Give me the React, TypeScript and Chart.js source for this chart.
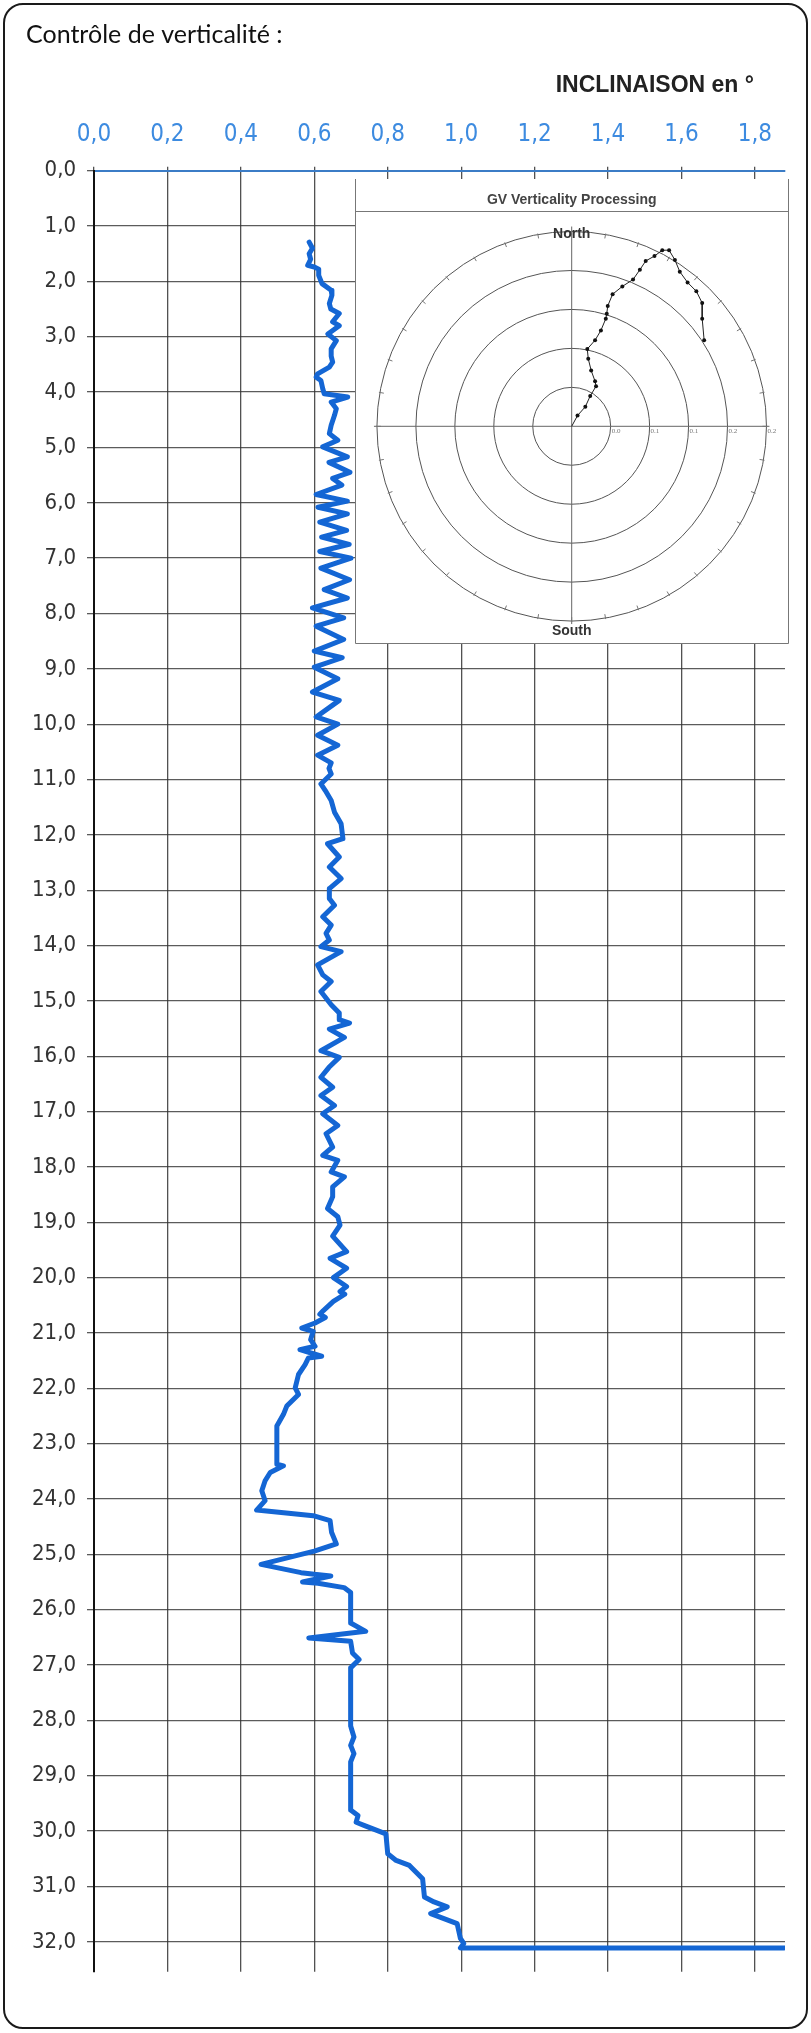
import React, { useEffect, useRef } from "react";
import { Chart, registerables } from "chart.js";

Chart.register(...registerables);

// ---------- DATA ----------
const depthM = [
  1.29, 1.4, 1.5, 1.6, 1.71, 1.74, 1.78, 1.89, 2.04, 2.16, 2.25, 2.4, 2.5, 2.58, 2.73, 2.8, 2.95, 3.07, 3.22, 3.35,
  3.46, 3.55, 3.67, 3.73, 3.79, 3.94, 4.03, 4.09, 4.18, 4.3, 4.42, 4.6, 4.75, 4.87, 4.99, 5.17, 5.27, 5.45, 5.56, 5.68,
  5.85, 5.97, 6.08, 6.2, 6.35, 6.5, 6.62, 6.75, 6.88, 7.0, 7.18, 7.39, 7.57, 7.72, 7.9, 8.08, 8.23, 8.47, 8.68, 8.8,
  8.97, 9.18, 9.42, 9.57, 9.87, 10.0, 10.2, 10.38, 10.56, 10.7, 10.8, 10.9, 11.08, 11.2, 11.38, 11.59, 11.8, 12.07, 12.16, 12.4,
  12.58, 12.79, 12.97, 13.15, 13.27, 13.48, 13.63, 13.78, 13.9, 14.02, 14.11, 14.35, 14.53, 14.65, 14.83, 15.07, 15.22, 15.34, 15.4, 15.51,
  15.66, 15.9, 16.02, 16.2, 16.38, 16.56, 16.71, 16.89, 17.04, 17.25, 17.4, 17.64, 17.79, 17.88, 18.09, 18.18, 18.36, 18.54, 18.75, 18.9,
  19.05, 19.25, 19.53, 19.65, 19.83, 20.0, 20.16, 20.25, 20.3, 20.43, 20.6, 20.66, 20.72, 20.82, 20.91, 20.97, 21.12, 21.24, 21.3, 21.42,
  21.45, 21.57, 21.75, 21.99, 22.11, 22.32, 22.47, 22.68, 23.37, 23.4, 23.52, 23.67, 23.85, 24.03, 24.2, 24.3, 24.39, 24.6, 24.81, 24.94,
  25.18, 25.33, 25.36, 25.39, 25.5, 25.52, 25.6, 25.69, 26.24, 26.39, 26.51, 26.57, 26.78, 26.9, 27.05, 28.1, 28.3, 28.45, 28.6, 28.75,
  29.62, 29.72, 29.84, 29.9, 30.05, 30.41, 30.53, 30.62, 30.86, 31.19, 31.28, 31.37, 31.49, 31.58, 31.67, 31.94, 32.03, 32.11, 32.11,
];

const inclinationDeg = [
  0.586, 0.595, 0.586, 0.59, 0.582, 0.6, 0.612, 0.612, 0.621, 0.646, 0.648, 0.641, 0.645, 0.668, 0.65, 0.668, 0.637, 0.66, 0.646, 0.646,
  0.65, 0.641, 0.609, 0.605, 0.618, 0.623, 0.627, 0.691, 0.646, 0.66, 0.655, 0.646, 0.641, 0.664, 0.623, 0.69, 0.64, 0.697, 0.65, 0.675,
  0.605, 0.69, 0.61, 0.69, 0.615, 0.688, 0.62, 0.695, 0.615, 0.7, 0.618, 0.696, 0.627, 0.69, 0.595, 0.68, 0.605, 0.68, 0.6, 0.676,
  0.6, 0.664, 0.595, 0.668, 0.605, 0.664, 0.609, 0.664, 0.609, 0.646, 0.64, 0.646, 0.618, 0.63, 0.646, 0.655, 0.673, 0.678, 0.636, 0.668,
  0.641, 0.673, 0.641, 0.641, 0.655, 0.623, 0.646, 0.632, 0.641, 0.618, 0.673, 0.609, 0.623, 0.646, 0.618, 0.646, 0.668, 0.668, 0.696, 0.641,
  0.682, 0.618, 0.668, 0.64, 0.618, 0.65, 0.618, 0.655, 0.623, 0.664, 0.632, 0.65, 0.623, 0.664, 0.646, 0.682, 0.65, 0.65, 0.636, 0.664,
  0.67, 0.65, 0.688, 0.643, 0.688, 0.652, 0.688, 0.67, 0.683, 0.652, 0.624, 0.615, 0.63, 0.602, 0.566, 0.597, 0.59, 0.602, 0.561, 0.62,
  0.584, 0.575, 0.557, 0.548, 0.557, 0.525, 0.516, 0.498, 0.498, 0.516, 0.48, 0.466, 0.457, 0.466, 0.443, 0.597, 0.643, 0.647, 0.66, 0.6,
  0.455, 0.564, 0.6, 0.645, 0.568, 0.61, 0.681, 0.699, 0.699, 0.74, 0.585, 0.699, 0.704, 0.722, 0.699, 0.699, 0.708, 0.699, 0.708, 0.699,
  0.699, 0.719, 0.714, 0.737, 0.795, 0.8, 0.823, 0.859, 0.895, 0.9, 0.926, 0.962, 0.917, 0.953, 0.989, 0.998, 1.007, 0.998, 1.88,
];

const inclinationTicks = [0, 0.2, 0.4, 0.6, 0.8, 1.0, 1.2, 1.4, 1.6, 1.8];
const inclinationTickLabels = ["0,0", "0,2", "0,4", "0,6", "0,8", "1,0", "1,2", "1,4", "1,6", "1,8"];
const depthTicks = [
  0, 1, 2, 3, 4, 5, 6, 7, 8, 9, 10, 11, 12, 13, 14, 15, 16, 17, 18, 19, 20, 21, 22, 23, 24, 25, 26, 27, 28, 29, 30, 31, 32,
];
const depthTickLabels = [
  "0,0", "1,0", "2,0", "3,0", "4,0", "5,0", "6,0", "7,0", "8,0", "9,0", "10,0", "11,0", "12,0", "13,0", "14,0", "15,0", "16,0",
  "17,0", "18,0", "19,0", "20,0", "21,0", "22,0", "23,0", "24,0", "25,0", "26,0", "27,0", "28,0", "29,0", "30,0", "31,0", "32,0",
];

// polar inset (GV Verticality Processing): east / north offsets
const polarEast = [
  0, 0.006, 0.014, 0.019, 0.025, 0.024, 0.02, 0.017, 0.016, 0.024, 0.03, 0.035, 0.036, 0.037, 0.042, 0.052, 0.063, 0.07, 0.076,
  0.085, 0.093, 0.1, 0.106, 0.111, 0.119, 0.128, 0.134, 0.134, 0.136,
];
const polarNorth = [
  0, 0.011, 0.02, 0.031, 0.041, 0.046, 0.057, 0.069, 0.079, 0.088, 0.098, 0.11, 0.115, 0.123, 0.135, 0.143, 0.15, 0.16, 0.169,
  0.174, 0.18, 0.18, 0.17, 0.158, 0.147, 0.138, 0.126, 0.11, 0.088,
];
const ringValues = [0.04, 0.08, 0.12, 0.16, 0.2];
const ringLabels = ["0.0", "0.1", "0.1", "0.2", "0.2"];

const TITLE = "Contrôle de verticalité :";
const AXIS_TITLE = "INCLINAISON en °";
const INSET_TITLE = "GV Verticality Processing";

const SANS = "'Liberation Sans', Arial, sans-serif";
const NARROW = "'Liberation Sans Narrow', 'DejaVu Sans Condensed', 'Liberation Sans', Arial, sans-serif";

function MainChart() {
  const ref = useRef<HTMLCanvasElement | null>(null);
  useEffect(() => {
    if (!ref.current) return;
    const textPlugin = {
      id: "pageText",
      afterDraw(chart: any) {
        const ctx = chart.ctx;
        ctx.save();
        ctx.fillStyle = "#111";
        ctx.font = "25px Lato, 'Open Sans', sans-serif";
        ctx.textAlign = "left";
        ctx.textBaseline = "alphabetic";
        ctx.fillText(TITLE, 26, 43);
        ctx.fillStyle = "#222";
        ctx.font = `bold 23px ${SANS}`;
        ctx.textAlign = "right";
        ctx.fillText(AXIS_TITLE, 754, 92);
        ctx.restore();
      },
    };
    const chart = new Chart(ref.current, {
      type: "scatter",
      data: {
        datasets: [
          {
            data: depthM.map((d, i) => ({ x: inclinationDeg[i], y: d })),
            showLine: true,
            borderColor: "#1466d4",
            borderWidth: 5,
            pointRadius: 0,
            borderJoinStyle: "round",
            borderCapStyle: "round",
            tension: 0,
          },
        ],
      },
      options: {
        animation: false,
        responsive: false,
        maintainAspectRatio: false,
        events: [],
        layout: { padding: { left: 0, top: 0, right: 26, bottom: 61.3 } },
        plugins: { legend: { display: false }, tooltip: { enabled: false } },
        scales: {
          x: {
            type: "linear",
            position: "top",
            min: 0,
            max: 1.882,
            afterBuildTicks: (s: any) => {
              s.ticks = inclinationTicks.map((v) => ({ value: v }));
            },
            afterFit: (s: any) => {
              s.height = 170.7;
            },
            ticks: {
              autoSkip: false,
              maxRotation: 0,
              padding: 18,
              color: "#3d8be0",
              font: { family: NARROW, size: 24 },
              callback: (v: any) => {
                const i = inclinationTicks.findIndex((t) => Math.abs(t - v) < 1e-6);
                return i >= 0 ? inclinationTickLabels[i] : "";
              },
            },
            grid: { color: "rgba(50,50,50,0.85)", lineWidth: 1.3, tickLength: 4 },
            border: { color: "#3b7cc6", width: 2 },
          },
          y: {
            type: "linear",
            reverse: true,
            min: 0,
            max: 32.54,
            afterBuildTicks: (s: any) => {
              s.ticks = depthTicks.map((v) => ({ value: v }));
            },
            afterFit: (s: any) => {
              s.width = 94;
            },
            ticks: {
              autoSkip: false,
              padding: 11,
              color: "#333",
              font: { family: NARROW, size: 22 },
              callback: (v: any) => {
                const i = depthTicks.findIndex((t) => Math.abs(t - v) < 1e-6);
                return i >= 0 ? depthTickLabels[i] : "";
              },
            },
            grid: { color: "rgba(50,50,50,0.8)", lineWidth: 1.3, tickLength: 7 },
            border: { color: "#111", width: 2 },
          },
        },
      } as any,
      plugins: [textPlugin],
    });
    return () => chart.destroy();
  }, []);
  return (
    <canvas
      ref={ref}
      width={811}
      height={2033}
      style={{ position: "absolute", left: 0, top: 0, width: 811, height: 2033, display: "block" }}
    />
  );
}

function InsetChart() {
  const ref = useRef<HTMLCanvasElement | null>(null);
  useEffect(() => {
    if (!ref.current) return;
    const polarGrid = {
      id: "polarGrid",
      beforeDatasetsDraw(chart: any) {
        const ctx = chart.ctx;
        const xs = chart.scales.x;
        const ys = chart.scales.y;
        const W = chart.width;
        const H = chart.height;
        const top = chart.chartArea.top;
        ctx.save();
        ctx.strokeStyle = "#777";
        ctx.lineWidth = 1;
        ctx.beginPath();
        ctx.moveTo(0.5, 0);
        ctx.lineTo(0.5, H - 0.5);
        ctx.lineTo(W - 0.5, H - 0.5);
        ctx.lineTo(W - 0.5, 0);
        ctx.moveTo(0, top - 0.5);
        ctx.lineTo(W, top - 0.5);
        ctx.stroke();
        ctx.fillStyle = "#444";
        ctx.font = `bold 14px ${SANS}`;
        ctx.textAlign = "center";
        ctx.textBaseline = "alphabetic";
        const cx = xs.getPixelForValue(0);
        const cy = ys.getPixelForValue(0);
        ctx.fillText(INSET_TITLE, cx, top - 8);

        const rOf = (v: number) => xs.getPixelForValue(v) - cx;
        const R = rOf(ringValues[ringValues.length - 1]);
        ctx.strokeStyle = "#555";
        ctx.lineWidth = 1;
        ringValues.forEach((v) => {
          ctx.beginPath();
          ctx.arc(cx, cy, rOf(v), 0, Math.PI * 2);
          ctx.stroke();
        });
        ctx.strokeStyle = "#666";
        ctx.beginPath();
        ctx.moveTo(cx - R - 3, cy);
        ctx.lineTo(cx + R + 3, cy);
        ctx.moveTo(cx, cy - R - 5);
        ctx.lineTo(cx, cy + R + 3);
        ctx.stroke();
        ctx.strokeStyle = "#777";
        ctx.beginPath();
        for (let a = 0; a < 360; a += 10) {
          const t = (a * Math.PI) / 180;
          ctx.moveTo(cx + Math.sin(t) * (R - 4), cy - Math.cos(t) * (R - 4));
          ctx.lineTo(cx + Math.sin(t) * (R + 1), cy - Math.cos(t) * (R + 1));
        }
        ctx.stroke();
        ctx.fillStyle = "#777";
        ctx.font = "7px 'Liberation Serif', serif";
        ctx.textAlign = "left";
        ctx.textBaseline = "middle";
        ringValues.forEach((v, i) => {
          ctx.fillText(ringLabels[i], cx + rOf(v) + 1, cy + 5);
        });
        ctx.fillStyle = "#333";
        ctx.font = `bold 14px ${SANS}`;
        ctx.textAlign = "center";
        ctx.textBaseline = "middle";
        ctx.fillText("North", cx, cy - R + 3);
        ctx.fillText("South", cx, cy + R + 10);
        ctx.restore();
      },
    };
    const chart = new Chart(ref.current, {
      type: "scatter",
      data: {
        datasets: [
          {
            data: polarEast.map((e, i) => ({ x: e, y: polarNorth[i] })),
            showLine: true,
            borderColor: "#222",
            borderWidth: 1,
            pointRadius: polarEast.map((_, i) => (i === 0 ? 0 : 2)),
            pointBackgroundColor: "#111",
            pointBorderWidth: 0,
            tension: 0,
          },
        ],
      },
      options: {
        animation: false,
        responsive: false,
        maintainAspectRatio: false,
        events: [],
        layout: { padding: { top: 33, left: 0, right: 0, bottom: 0 } },
        plugins: { legend: { display: false }, tooltip: { enabled: false } },
        scales: {
          x: { type: "linear", display: false, min: -0.21843, max: 0.21904 },
          y: { type: "linear", display: false, min: -0.21843, max: 0.21904 },
        },
      } as any,
      plugins: [polarGrid],
    });
    return () => chart.destroy();
  }, []);
  return (
    <canvas
      ref={ref}
      width={434}
      height={465}
      style={{
        position: "absolute",
        left: 355,
        top: 179,
        width: 434,
        height: 465,
        background: "#fff",
        display: "block",
      }}
    />
  );
}

export default function App() {
  return (
    <div style={{ position: "absolute", left: 0, top: 0, width: 811, height: 2033, background: "#fff" }}>
      <MainChart />
      <InsetChart />
      <div
        style={{
          position: "absolute",
          left: 3,
          top: 3,
          width: 805,
          height: 2026,
          border: "2px solid #1a1a1a",
          borderRadius: 20,
          boxSizing: "border-box",
          pointerEvents: "none",
        }}
      />
    </div>
  );
}
